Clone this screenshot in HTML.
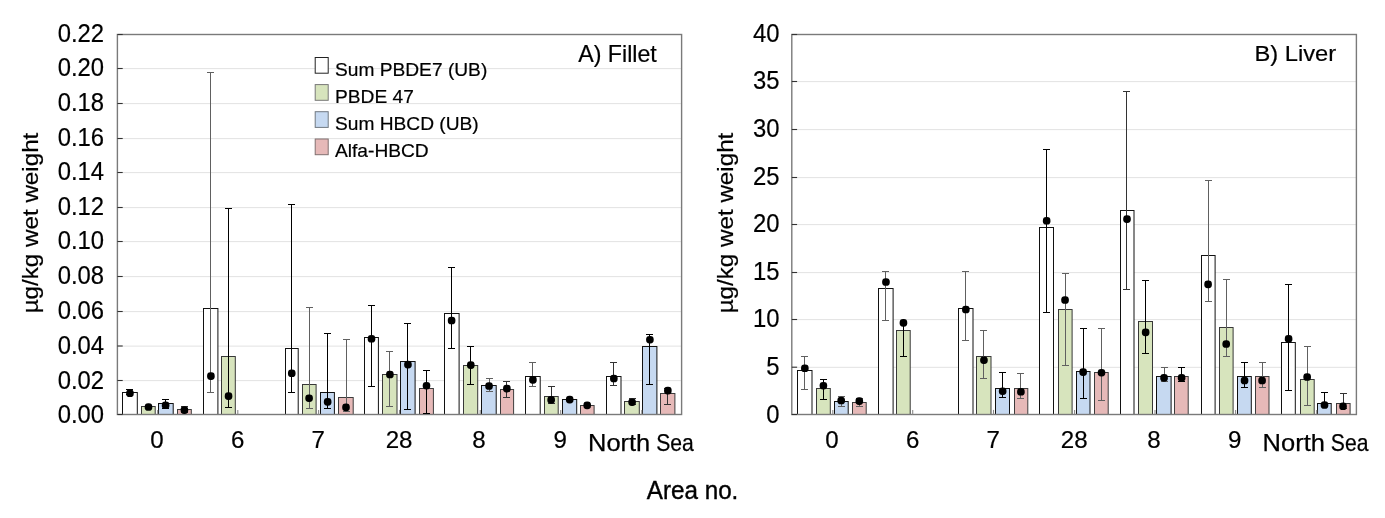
<!DOCTYPE html>
<html><head><meta charset="utf-8"><title>Area chart</title>
<style>
html,body{margin:0;padding:0;background:#fff;overflow:hidden;}
svg{display:block;}
text{font-family:"Liberation Sans",sans-serif;fill:#000;stroke:#000;stroke-width:0.2px;}
.tk{font-size:25.6px;}
.xl{font-size:24.1px;}
.ar{font-size:25.5px;stroke-width:0.4px;}
.ti{font-size:23.2px;}
.ti2{font-size:22.7px;}
.lg{font-size:18.4px;}
.yt{font-size:22.9px;}
.ns{font-size:23.8px;stroke:#000;stroke-width:0.25px;}
</style></head><body>
<svg width="1385" height="518" viewBox="0 0 1385 518">
<rect width="1385" height="518" fill="#fff"/>
<line x1="117.4" x2="681.6" y1="380.62" y2="380.62" stroke="#e2e2e2" stroke-width="1"/>
<line x1="117.4" x2="681.6" y1="346.12" y2="346.12" stroke="#e2e2e2" stroke-width="1"/>
<line x1="117.4" x2="681.6" y1="311.62" y2="311.62" stroke="#e2e2e2" stroke-width="1"/>
<line x1="117.4" x2="681.6" y1="276.62" y2="276.62" stroke="#e2e2e2" stroke-width="1"/>
<line x1="117.4" x2="681.6" y1="241.62" y2="241.62" stroke="#e2e2e2" stroke-width="1"/>
<line x1="117.4" x2="681.6" y1="207.62" y2="207.62" stroke="#e2e2e2" stroke-width="1"/>
<line x1="117.4" x2="681.6" y1="172.62" y2="172.62" stroke="#e2e2e2" stroke-width="1"/>
<line x1="117.4" x2="681.6" y1="138.62" y2="138.62" stroke="#e2e2e2" stroke-width="1"/>
<line x1="117.4" x2="681.6" y1="103.62" y2="103.62" stroke="#e2e2e2" stroke-width="1"/>
<line x1="117.4" x2="681.6" y1="68.62" y2="68.62" stroke="#e2e2e2" stroke-width="1"/>
<rect x="122.5" y="392.5" width="14.8" height="22.00" fill="#ffffff" stroke="#111" stroke-width="1"/>
<rect x="141.5" y="406.5" width="13.7" height="8.00" fill="#d7e4bd" stroke="#383838" stroke-width="1"/>
<rect x="158.5" y="403.5" width="14.7" height="11.00" fill="#c6d9f1" stroke="#111" stroke-width="1"/>
<rect x="177.5" y="409.5" width="13.8" height="5.00" fill="#e6b9b8" stroke="#3c3c3c" stroke-width="1"/>
<rect x="203.5" y="308.5" width="14.4" height="106.00" fill="#ffffff" stroke="#111" stroke-width="1"/>
<rect x="221.5" y="356.5" width="13.8" height="58.00" fill="#d7e4bd" stroke="#383838" stroke-width="1"/>
<rect x="285.5" y="348.5" width="12.7" height="66.00" fill="#ffffff" stroke="#111" stroke-width="1"/>
<rect x="302.5" y="384.5" width="13.6" height="30.00" fill="#d7e4bd" stroke="#383838" stroke-width="1"/>
<rect x="320.5" y="392.5" width="13.9" height="22.00" fill="#c6d9f1" stroke="#111" stroke-width="1"/>
<rect x="338.5" y="397.5" width="14.7" height="17.00" fill="#e6b9b8" stroke="#3c3c3c" stroke-width="1"/>
<rect x="364.5" y="337.5" width="13.9" height="77.00" fill="#ffffff" stroke="#111" stroke-width="1"/>
<rect x="382.5" y="374.5" width="14.5" height="40.00" fill="#d7e4bd" stroke="#383838" stroke-width="1"/>
<rect x="400.5" y="361.5" width="14.6" height="53.00" fill="#c6d9f1" stroke="#111" stroke-width="1"/>
<rect x="419.5" y="388.5" width="13.9" height="26.00" fill="#e6b9b8" stroke="#3c3c3c" stroke-width="1"/>
<rect x="444.5" y="313.5" width="14.6" height="101.00" fill="#ffffff" stroke="#111" stroke-width="1"/>
<rect x="463.5" y="365.5" width="14.2" height="49.00" fill="#d7e4bd" stroke="#383838" stroke-width="1"/>
<rect x="481.5" y="385.5" width="14.7" height="29.00" fill="#c6d9f1" stroke="#111" stroke-width="1"/>
<rect x="500.5" y="389.5" width="13.1" height="25.00" fill="#e6b9b8" stroke="#3c3c3c" stroke-width="1"/>
<rect x="525.5" y="376.5" width="14.7" height="38.00" fill="#ffffff" stroke="#111" stroke-width="1"/>
<rect x="544.5" y="396.5" width="13.7" height="18.00" fill="#d7e4bd" stroke="#383838" stroke-width="1"/>
<rect x="562.5" y="399.5" width="14.2" height="15.00" fill="#c6d9f1" stroke="#111" stroke-width="1"/>
<rect x="580.5" y="405.5" width="13.6" height="9.00" fill="#e6b9b8" stroke="#3c3c3c" stroke-width="1"/>
<rect x="606.5" y="376.5" width="14.5" height="38.00" fill="#ffffff" stroke="#111" stroke-width="1"/>
<rect x="624.5" y="401.5" width="14.8" height="13.00" fill="#d7e4bd" stroke="#383838" stroke-width="1"/>
<rect x="642.5" y="346.5" width="14.4" height="68.00" fill="#c6d9f1" stroke="#111" stroke-width="1"/>
<rect x="660.5" y="393.5" width="14.4" height="21.00" fill="#e6b9b8" stroke="#3c3c3c" stroke-width="1"/>
<rect x="117.4" y="34.5" width="564.2" height="380.0" fill="none" stroke="#7a7a7a" stroke-width="1.4"/>
<line x1="117.4" x2="122.7" y1="414.50" y2="414.50" stroke="#333" stroke-width="1.1"/>
<line x1="117.4" x2="122.7" y1="380.50" y2="380.50" stroke="#333" stroke-width="1.1"/>
<line x1="117.4" x2="122.7" y1="346.00" y2="346.00" stroke="#333" stroke-width="1.1"/>
<line x1="117.4" x2="122.7" y1="311.50" y2="311.50" stroke="#333" stroke-width="1.1"/>
<line x1="117.4" x2="122.7" y1="276.50" y2="276.50" stroke="#333" stroke-width="1.1"/>
<line x1="117.4" x2="122.7" y1="241.50" y2="241.50" stroke="#333" stroke-width="1.1"/>
<line x1="117.4" x2="122.7" y1="207.50" y2="207.50" stroke="#333" stroke-width="1.1"/>
<line x1="117.4" x2="122.7" y1="172.50" y2="172.50" stroke="#333" stroke-width="1.1"/>
<line x1="117.4" x2="122.7" y1="138.50" y2="138.50" stroke="#333" stroke-width="1.1"/>
<line x1="117.4" x2="122.7" y1="103.50" y2="103.50" stroke="#333" stroke-width="1.1"/>
<line x1="117.4" x2="122.7" y1="68.50" y2="68.50" stroke="#333" stroke-width="1.1"/>
<line x1="117.4" x2="122.7" y1="34.50" y2="34.50" stroke="#333" stroke-width="1.1"/>
<line x1="157.70" x2="157.70" y1="409.9" y2="414.5" stroke="#8a8a8a" stroke-width="1.1"/>
<line x1="237.80" x2="237.80" y1="409.9" y2="414.5" stroke="#8a8a8a" stroke-width="1.1"/>
<line x1="318.60" x2="318.60" y1="409.9" y2="414.5" stroke="#8a8a8a" stroke-width="1.1"/>
<line x1="399.50" x2="399.50" y1="409.9" y2="414.5" stroke="#8a8a8a" stroke-width="1.1"/>
<line x1="480.20" x2="480.20" y1="409.9" y2="414.5" stroke="#8a8a8a" stroke-width="1.1"/>
<line x1="560.70" x2="560.70" y1="409.9" y2="414.5" stroke="#8a8a8a" stroke-width="1.1"/>
<line x1="641.80" x2="641.80" y1="409.9" y2="414.5" stroke="#8a8a8a" stroke-width="1.1"/>
<path d="M129.5 389.5V394.5M126.0 389.5H133.0M126.0 394.5H133.0" stroke="#000" stroke-width="1.0" fill="none"/>
<path d="M165.5 399.5V408.5M162.0 399.5H169.0M162.0 408.5H169.0" stroke="#000" stroke-width="1.0" fill="none"/>
<path d="M184.5 406.5V412.5M181.0 406.5H188.0M181.0 412.5H188.0" stroke="#333" stroke-width="1.0" fill="none"/>
<path d="M210.5 72.5V392.5M207.0 72.5H214.0M207.0 392.5H214.0" stroke="#606060" stroke-width="1.0" fill="none"/>
<path d="M228.5 208.5V407.5M225.0 208.5H232.0M225.0 407.5H232.0" stroke="#000" stroke-width="1.0" fill="none"/>
<path d="M291.5 204.5V392.5M288.0 204.5H295.0M288.0 392.5H295.0" stroke="#000" stroke-width="1.0" fill="none"/>
<path d="M309.5 307.5V408.5M306.0 307.5H313.0M306.0 408.5H313.0" stroke="#606060" stroke-width="1.0" fill="none"/>
<path d="M327.5 333.5V408.5M324.0 333.5H331.0M324.0 408.5H331.0" stroke="#000" stroke-width="1.0" fill="none"/>
<path d="M346.5 339.5V411.5M343.0 339.5H350.0M343.0 411.5H350.0" stroke="#606060" stroke-width="1.0" fill="none"/>
<path d="M371.5 305.5V386.5M368.0 305.5H375.0M368.0 386.5H375.0" stroke="#000" stroke-width="1.0" fill="none"/>
<path d="M389.5 351.5V406.5M386.0 351.5H393.0M386.0 406.5H393.0" stroke="#606060" stroke-width="1.0" fill="none"/>
<path d="M407.5 323.5V409.5M404.0 323.5H411.0M404.0 409.5H411.0" stroke="#000" stroke-width="1.0" fill="none"/>
<path d="M426.5 370.5V413.5M423.0 370.5H430.0M423.0 413.5H430.0" stroke="#000" stroke-width="1.0" fill="none"/>
<path d="M451.5 267.5V348.5M448.0 267.5H455.0M448.0 348.5H455.0" stroke="#000" stroke-width="1.0" fill="none"/>
<path d="M470.5 346.5V384.5M467.0 346.5H474.0M467.0 384.5H474.0" stroke="#000" stroke-width="1.0" fill="none"/>
<path d="M489.5 378.5V391.5M486.0 378.5H493.0M486.0 391.5H493.0" stroke="#606060" stroke-width="1.0" fill="none"/>
<path d="M506.5 381.5V397.5M503.0 381.5H510.0M503.0 397.5H510.0" stroke="#333" stroke-width="1.0" fill="none"/>
<path d="M532.5 362.5V386.5M529.0 362.5H536.0M529.0 386.5H536.0" stroke="#606060" stroke-width="1.0" fill="none"/>
<path d="M551.5 386.5V403.5M548.0 386.5H555.0M548.0 403.5H555.0" stroke="#333" stroke-width="1.0" fill="none"/>
<path d="M613.5 362.5V385.5M610.0 362.5H617.0M610.0 385.5H617.0" stroke="#333" stroke-width="1.0" fill="none"/>
<path d="M632.5 398.5V404.5M629.0 398.5H636.0M629.0 404.5H636.0" stroke="#333" stroke-width="1.0" fill="none"/>
<path d="M649.5 334.5V384.5M646.0 334.5H653.0M646.0 384.5H653.0" stroke="#000" stroke-width="1.0" fill="none"/>
<path d="M667.5 388.5V404.5M664.0 388.5H671.0M664.0 404.5H671.0" stroke="#333" stroke-width="1.0" fill="none"/>
<rect x="126.15" y="389.50" width="7.6" height="7.6" rx="3.4" ry="3.4" fill="#000"/>
<rect x="144.70" y="403.20" width="7.6" height="7.6" rx="3.4" ry="3.4" fill="#000"/>
<rect x="161.80" y="401.50" width="7.6" height="7.6" rx="3.4" ry="3.4" fill="#000"/>
<rect x="180.60" y="406.30" width="7.6" height="7.6" rx="3.4" ry="3.4" fill="#000"/>
<rect x="207.10" y="372.30" width="7.6" height="7.6" rx="3.4" ry="3.4" fill="#000"/>
<rect x="224.75" y="392.30" width="7.6" height="7.6" rx="3.4" ry="3.4" fill="#000"/>
<rect x="287.95" y="369.50" width="7.6" height="7.6" rx="3.4" ry="3.4" fill="#000"/>
<rect x="305.30" y="394.40" width="7.6" height="7.6" rx="3.4" ry="3.4" fill="#000"/>
<rect x="323.85" y="398.10" width="7.6" height="7.6" rx="3.4" ry="3.4" fill="#000"/>
<rect x="342.20" y="403.60" width="7.6" height="7.6" rx="3.4" ry="3.4" fill="#000"/>
<rect x="367.70" y="335.00" width="7.6" height="7.6" rx="3.4" ry="3.4" fill="#000"/>
<rect x="386.10" y="370.70" width="7.6" height="7.6" rx="3.4" ry="3.4" fill="#000"/>
<rect x="404.15" y="360.80" width="7.6" height="7.6" rx="3.4" ry="3.4" fill="#000"/>
<rect x="422.70" y="381.90" width="7.6" height="7.6" rx="3.4" ry="3.4" fill="#000"/>
<rect x="447.80" y="316.70" width="7.6" height="7.6" rx="3.4" ry="3.4" fill="#000"/>
<rect x="467.00" y="361.30" width="7.6" height="7.6" rx="3.4" ry="3.4" fill="#000"/>
<rect x="485.25" y="382.20" width="7.6" height="7.6" rx="3.4" ry="3.4" fill="#000"/>
<rect x="503.05" y="384.80" width="7.6" height="7.6" rx="3.4" ry="3.4" fill="#000"/>
<rect x="529.10" y="376.10" width="7.6" height="7.6" rx="3.4" ry="3.4" fill="#000"/>
<rect x="547.35" y="396.10" width="7.6" height="7.6" rx="3.4" ry="3.4" fill="#000"/>
<rect x="565.90" y="395.80" width="7.6" height="7.6" rx="3.4" ry="3.4" fill="#000"/>
<rect x="583.40" y="401.60" width="7.6" height="7.6" rx="3.4" ry="3.4" fill="#000"/>
<rect x="610.05" y="374.70" width="7.6" height="7.6" rx="3.4" ry="3.4" fill="#000"/>
<rect x="628.30" y="398.40" width="7.6" height="7.6" rx="3.4" ry="3.4" fill="#000"/>
<rect x="646.10" y="335.90" width="7.6" height="7.6" rx="3.4" ry="3.4" fill="#000"/>
<rect x="664.05" y="386.80" width="7.6" height="7.6" rx="3.4" ry="3.4" fill="#000"/>
<text x="104.1" y="423.00" text-anchor="end" class="tk" transform="translate(104.1 0) scale(0.932 1) translate(-104.1 0)">0.00</text>
<text x="104.1" y="388.70" text-anchor="end" class="tk" transform="translate(104.1 0) scale(0.932 1) translate(-104.1 0)">0.02</text>
<text x="104.1" y="353.70" text-anchor="end" class="tk" transform="translate(104.1 0) scale(0.932 1) translate(-104.1 0)">0.04</text>
<text x="104.1" y="319.20" text-anchor="end" class="tk" transform="translate(104.1 0) scale(0.932 1) translate(-104.1 0)">0.06</text>
<text x="104.1" y="284.20" text-anchor="end" class="tk" transform="translate(104.1 0) scale(0.932 1) translate(-104.1 0)">0.08</text>
<text x="104.1" y="249.20" text-anchor="end" class="tk" transform="translate(104.1 0) scale(0.932 1) translate(-104.1 0)">0.10</text>
<text x="104.1" y="215.20" text-anchor="end" class="tk" transform="translate(104.1 0) scale(0.932 1) translate(-104.1 0)">0.12</text>
<text x="104.1" y="180.20" text-anchor="end" class="tk" transform="translate(104.1 0) scale(0.932 1) translate(-104.1 0)">0.14</text>
<text x="104.1" y="146.20" text-anchor="end" class="tk" transform="translate(104.1 0) scale(0.932 1) translate(-104.1 0)">0.16</text>
<text x="104.1" y="111.20" text-anchor="end" class="tk" transform="translate(104.1 0) scale(0.932 1) translate(-104.1 0)">0.18</text>
<text x="104.1" y="76.20" text-anchor="end" class="tk" transform="translate(104.1 0) scale(0.932 1) translate(-104.1 0)">0.20</text>
<text x="104.1" y="42.20" text-anchor="end" class="tk" transform="translate(104.1 0) scale(0.932 1) translate(-104.1 0)">0.22</text>
<line x1="791.8" x2="1356.4" y1="367.32" y2="367.32" stroke="#e2e2e2" stroke-width="1"/>
<line x1="791.8" x2="1356.4" y1="319.62" y2="319.62" stroke="#e2e2e2" stroke-width="1"/>
<line x1="791.8" x2="1356.4" y1="272.62" y2="272.62" stroke="#e2e2e2" stroke-width="1"/>
<line x1="791.8" x2="1356.4" y1="224.62" y2="224.62" stroke="#e2e2e2" stroke-width="1"/>
<line x1="791.8" x2="1356.4" y1="177.62" y2="177.62" stroke="#e2e2e2" stroke-width="1"/>
<line x1="791.8" x2="1356.4" y1="129.62" y2="129.62" stroke="#e2e2e2" stroke-width="1"/>
<line x1="791.8" x2="1356.4" y1="81.62" y2="81.62" stroke="#e2e2e2" stroke-width="1"/>
<rect x="797.5" y="370.5" width="14.5" height="44.00" fill="#ffffff" stroke="#111" stroke-width="1"/>
<rect x="816.5" y="388.5" width="13.8" height="26.00" fill="#d7e4bd" stroke="#383838" stroke-width="1"/>
<rect x="834.5" y="401.5" width="13.7" height="13.00" fill="#c6d9f1" stroke="#111" stroke-width="1"/>
<rect x="852.5" y="402.5" width="13.7" height="12.00" fill="#e6b9b8" stroke="#3c3c3c" stroke-width="1"/>
<rect x="878.5" y="288.5" width="14.6" height="126.00" fill="#ffffff" stroke="#111" stroke-width="1"/>
<rect x="896.5" y="330.5" width="13.7" height="84.00" fill="#d7e4bd" stroke="#383838" stroke-width="1"/>
<rect x="958.5" y="308.5" width="14.5" height="106.00" fill="#ffffff" stroke="#111" stroke-width="1"/>
<rect x="976.5" y="356.5" width="14.5" height="58.00" fill="#d7e4bd" stroke="#383838" stroke-width="1"/>
<rect x="995.5" y="388.5" width="14.0" height="26.00" fill="#c6d9f1" stroke="#111" stroke-width="1"/>
<rect x="1014.5" y="388.5" width="13.3" height="26.00" fill="#e6b9b8" stroke="#3c3c3c" stroke-width="1"/>
<rect x="1039.5" y="227.5" width="14.0" height="187.00" fill="#ffffff" stroke="#111" stroke-width="1"/>
<rect x="1058.5" y="309.5" width="13.6" height="105.00" fill="#d7e4bd" stroke="#383838" stroke-width="1"/>
<rect x="1076.5" y="371.5" width="13.5" height="43.00" fill="#c6d9f1" stroke="#111" stroke-width="1"/>
<rect x="1094.5" y="372.5" width="13.7" height="42.00" fill="#e6b9b8" stroke="#3c3c3c" stroke-width="1"/>
<rect x="1120.5" y="210.5" width="13.5" height="204.00" fill="#ffffff" stroke="#111" stroke-width="1"/>
<rect x="1138.5" y="321.5" width="14.0" height="93.00" fill="#d7e4bd" stroke="#383838" stroke-width="1"/>
<rect x="1156.5" y="376.5" width="14.6" height="38.00" fill="#c6d9f1" stroke="#111" stroke-width="1"/>
<rect x="1174.5" y="376.5" width="13.7" height="38.00" fill="#e6b9b8" stroke="#3c3c3c" stroke-width="1"/>
<rect x="1201.5" y="255.5" width="13.6" height="159.00" fill="#ffffff" stroke="#111" stroke-width="1"/>
<rect x="1219.5" y="327.5" width="13.6" height="87.00" fill="#d7e4bd" stroke="#383838" stroke-width="1"/>
<rect x="1237.5" y="376.5" width="13.8" height="38.00" fill="#c6d9f1" stroke="#111" stroke-width="1"/>
<rect x="1255.5" y="376.5" width="13.5" height="38.00" fill="#e6b9b8" stroke="#3c3c3c" stroke-width="1"/>
<rect x="1281.5" y="342.5" width="13.8" height="72.00" fill="#ffffff" stroke="#111" stroke-width="1"/>
<rect x="1300.5" y="379.5" width="13.7" height="35.00" fill="#d7e4bd" stroke="#383838" stroke-width="1"/>
<rect x="1317.5" y="403.5" width="13.7" height="11.00" fill="#c6d9f1" stroke="#111" stroke-width="1"/>
<rect x="1336.5" y="403.5" width="13.6" height="11.00" fill="#e6b9b8" stroke="#3c3c3c" stroke-width="1"/>
<rect x="791.8" y="34.5" width="564.6000000000001" height="380.0" fill="none" stroke="#7a7a7a" stroke-width="1.4"/>
<line x1="791.8" x2="797.0999999999999" y1="414.50" y2="414.50" stroke="#333" stroke-width="1.1"/>
<line x1="791.8" x2="797.0999999999999" y1="367.20" y2="367.20" stroke="#333" stroke-width="1.1"/>
<line x1="791.8" x2="797.0999999999999" y1="319.50" y2="319.50" stroke="#333" stroke-width="1.1"/>
<line x1="791.8" x2="797.0999999999999" y1="272.50" y2="272.50" stroke="#333" stroke-width="1.1"/>
<line x1="791.8" x2="797.0999999999999" y1="224.50" y2="224.50" stroke="#333" stroke-width="1.1"/>
<line x1="791.8" x2="797.0999999999999" y1="177.50" y2="177.50" stroke="#333" stroke-width="1.1"/>
<line x1="791.8" x2="797.0999999999999" y1="129.50" y2="129.50" stroke="#333" stroke-width="1.1"/>
<line x1="791.8" x2="797.0999999999999" y1="81.50" y2="81.50" stroke="#333" stroke-width="1.1"/>
<line x1="791.8" x2="797.0999999999999" y1="34.50" y2="34.50" stroke="#333" stroke-width="1.1"/>
<line x1="832.80" x2="832.80" y1="409.9" y2="414.5" stroke="#8a8a8a" stroke-width="1.1"/>
<line x1="912.70" x2="912.70" y1="409.9" y2="414.5" stroke="#8a8a8a" stroke-width="1.1"/>
<line x1="993.50" x2="993.50" y1="409.9" y2="414.5" stroke="#8a8a8a" stroke-width="1.1"/>
<line x1="1074.60" x2="1074.60" y1="409.9" y2="414.5" stroke="#8a8a8a" stroke-width="1.1"/>
<line x1="1155.00" x2="1155.00" y1="409.9" y2="414.5" stroke="#8a8a8a" stroke-width="1.1"/>
<line x1="1235.60" x2="1235.60" y1="409.9" y2="414.5" stroke="#8a8a8a" stroke-width="1.1"/>
<line x1="1316.70" x2="1316.70" y1="409.9" y2="414.5" stroke="#8a8a8a" stroke-width="1.1"/>
<path d="M804.5 356.5V389.5M801.0 356.5H808.0M801.0 389.5H808.0" stroke="#606060" stroke-width="1.0" fill="none"/>
<path d="M823.5 379.5V399.5M820.0 379.5H827.0M820.0 399.5H827.0" stroke="#000" stroke-width="1.0" fill="none"/>
<path d="M841.5 396.5V406.5M838.0 396.5H845.0M838.0 406.5H845.0" stroke="#606060" stroke-width="1.0" fill="none"/>
<path d="M859.5 398.5V406.5M856.0 398.5H863.0M856.0 406.5H863.0" stroke="#606060" stroke-width="1.0" fill="none"/>
<path d="M885.5 271.5V320.5M882.0 271.5H889.0M882.0 320.5H889.0" stroke="#606060" stroke-width="1.0" fill="none"/>
<path d="M903.5 322.5V356.5M900.0 322.5H907.0M900.0 356.5H907.0" stroke="#000" stroke-width="1.0" fill="none"/>
<path d="M965.5 271.5V340.5M962.0 271.5H969.0M962.0 340.5H969.0" stroke="#606060" stroke-width="1.0" fill="none"/>
<path d="M983.5 330.5V378.5M980.0 330.5H987.0M980.0 378.5H987.0" stroke="#606060" stroke-width="1.0" fill="none"/>
<path d="M1002.5 372.5V397.5M999.0 372.5H1006.0M999.0 397.5H1006.0" stroke="#000" stroke-width="1.0" fill="none"/>
<path d="M1020.5 373.5V398.5M1017.0 373.5H1024.0M1017.0 398.5H1024.0" stroke="#606060" stroke-width="1.0" fill="none"/>
<path d="M1046.5 149.5V312.5M1043.0 149.5H1050.0M1043.0 312.5H1050.0" stroke="#000" stroke-width="1.0" fill="none"/>
<path d="M1065.5 273.5V365.5M1062.0 273.5H1069.0M1062.0 365.5H1069.0" stroke="#606060" stroke-width="1.0" fill="none"/>
<path d="M1083.5 328.5V398.5M1080.0 328.5H1087.0M1080.0 398.5H1087.0" stroke="#000" stroke-width="1.0" fill="none"/>
<path d="M1101.5 328.5V400.5M1098.0 328.5H1105.0M1098.0 400.5H1105.0" stroke="#606060" stroke-width="1.0" fill="none"/>
<path d="M1126.5 91.5V289.5M1123.0 91.5H1130.0M1123.0 289.5H1130.0" stroke="#333" stroke-width="1.0" fill="none"/>
<path d="M1145.5 280.5V353.5M1142.0 280.5H1149.0M1142.0 353.5H1149.0" stroke="#000" stroke-width="1.0" fill="none"/>
<path d="M1164.5 367.5V381.5M1161.0 367.5H1168.0M1161.0 381.5H1168.0" stroke="#606060" stroke-width="1.0" fill="none"/>
<path d="M1181.5 367.5V381.5M1178.0 367.5H1185.0M1178.0 381.5H1185.0" stroke="#000" stroke-width="1.0" fill="none"/>
<path d="M1208.5 180.5V301.5M1205.0 180.5H1212.0M1205.0 301.5H1212.0" stroke="#606060" stroke-width="1.0" fill="none"/>
<path d="M1226.5 279.5V356.5M1223.0 279.5H1230.0M1223.0 356.5H1230.0" stroke="#606060" stroke-width="1.0" fill="none"/>
<path d="M1244.5 362.5V387.5M1241.0 362.5H1248.0M1241.0 387.5H1248.0" stroke="#000" stroke-width="1.0" fill="none"/>
<path d="M1262.5 362.5V387.5M1259.0 362.5H1266.0M1259.0 387.5H1266.0" stroke="#606060" stroke-width="1.0" fill="none"/>
<path d="M1288.5 284.5V390.5M1285.0 284.5H1292.0M1285.0 390.5H1292.0" stroke="#000" stroke-width="1.0" fill="none"/>
<path d="M1307.5 346.5V405.5M1304.0 346.5H1311.0M1304.0 405.5H1311.0" stroke="#606060" stroke-width="1.0" fill="none"/>
<path d="M1324.5 392.5V406.5M1321.0 392.5H1328.0M1321.0 406.5H1328.0" stroke="#000" stroke-width="1.0" fill="none"/>
<path d="M1343.5 393.5V408.5M1340.0 393.5H1347.0M1340.0 408.5H1347.0" stroke="#333" stroke-width="1.0" fill="none"/>
<rect x="801.05" y="364.50" width="7.6" height="7.6" rx="3.4" ry="3.4" fill="#000"/>
<rect x="819.60" y="381.90" width="7.6" height="7.6" rx="3.4" ry="3.4" fill="#000"/>
<rect x="837.40" y="396.70" width="7.6" height="7.6" rx="3.4" ry="3.4" fill="#000"/>
<rect x="855.50" y="397.30" width="7.6" height="7.6" rx="3.4" ry="3.4" fill="#000"/>
<rect x="882.15" y="278.20" width="7.6" height="7.6" rx="3.4" ry="3.4" fill="#000"/>
<rect x="899.65" y="319.10" width="7.6" height="7.6" rx="3.4" ry="3.4" fill="#000"/>
<rect x="962.05" y="305.70" width="7.6" height="7.6" rx="3.4" ry="3.4" fill="#000"/>
<rect x="980.15" y="356.40" width="7.6" height="7.6" rx="3.4" ry="3.4" fill="#000"/>
<rect x="998.85" y="387.40" width="7.6" height="7.6" rx="3.4" ry="3.4" fill="#000"/>
<rect x="1017.10" y="388.00" width="7.6" height="7.6" rx="3.4" ry="3.4" fill="#000"/>
<rect x="1042.85" y="217.00" width="7.6" height="7.6" rx="3.4" ry="3.4" fill="#000"/>
<rect x="1061.25" y="296.20" width="7.6" height="7.6" rx="3.4" ry="3.4" fill="#000"/>
<rect x="1079.35" y="368.30" width="7.6" height="7.6" rx="3.4" ry="3.4" fill="#000"/>
<rect x="1097.70" y="368.90" width="7.6" height="7.6" rx="3.4" ry="3.4" fill="#000"/>
<rect x="1123.20" y="215.30" width="7.6" height="7.6" rx="3.4" ry="3.4" fill="#000"/>
<rect x="1141.85" y="328.60" width="7.6" height="7.6" rx="3.4" ry="3.4" fill="#000"/>
<rect x="1160.25" y="374.10" width="7.6" height="7.6" rx="3.4" ry="3.4" fill="#000"/>
<rect x="1177.80" y="374.10" width="7.6" height="7.6" rx="3.4" ry="3.4" fill="#000"/>
<rect x="1204.30" y="280.60" width="7.6" height="7.6" rx="3.4" ry="3.4" fill="#000"/>
<rect x="1222.40" y="340.20" width="7.6" height="7.6" rx="3.4" ry="3.4" fill="#000"/>
<rect x="1240.75" y="376.70" width="7.6" height="7.6" rx="3.4" ry="3.4" fill="#000"/>
<rect x="1258.30" y="376.70" width="7.6" height="7.6" rx="3.4" ry="3.4" fill="#000"/>
<rect x="1284.80" y="335.00" width="7.6" height="7.6" rx="3.4" ry="3.4" fill="#000"/>
<rect x="1303.35" y="373.20" width="7.6" height="7.6" rx="3.4" ry="3.4" fill="#000"/>
<rect x="1320.70" y="401.20" width="7.6" height="7.6" rx="3.4" ry="3.4" fill="#000"/>
<rect x="1339.25" y="402.50" width="7.6" height="7.6" rx="3.4" ry="3.4" fill="#000"/>
<text x="779.5" y="423.00" text-anchor="end" class="tk" transform="translate(779.5 0) scale(0.932 1) translate(-779.5 0)">0</text>
<text x="779.5" y="375.40" text-anchor="end" class="tk" transform="translate(779.5 0) scale(0.932 1) translate(-779.5 0)">5</text>
<text x="779.5" y="327.20" text-anchor="end" class="tk" transform="translate(779.5 0) scale(0.932 1) translate(-779.5 0)">10</text>
<text x="779.5" y="280.20" text-anchor="end" class="tk" transform="translate(779.5 0) scale(0.932 1) translate(-779.5 0)">15</text>
<text x="779.5" y="232.20" text-anchor="end" class="tk" transform="translate(779.5 0) scale(0.932 1) translate(-779.5 0)">20</text>
<text x="779.5" y="185.20" text-anchor="end" class="tk" transform="translate(779.5 0) scale(0.932 1) translate(-779.5 0)">25</text>
<text x="779.5" y="137.20" text-anchor="end" class="tk" transform="translate(779.5 0) scale(0.932 1) translate(-779.5 0)">30</text>
<text x="779.5" y="89.20" text-anchor="end" class="tk" transform="translate(779.5 0) scale(0.932 1) translate(-779.5 0)">35</text>
<text x="779.5" y="42.20" text-anchor="end" class="tk" transform="translate(779.5 0) scale(0.932 1) translate(-779.5 0)">40</text>
<rect x="315.2" y="57.5" width="13" height="15.7" fill="#ffffff" stroke="#222" stroke-width="1"/>
<text x="335" y="76.1" class="lg" transform="translate(335 0) scale(1.042 1) translate(-335 0)">Sum PBDE7 (UB)</text>
<rect x="315.2" y="84.60000000000001" width="13" height="15.7" fill="#d7e4bd" stroke="#777" stroke-width="1"/>
<text x="335" y="102.9" class="lg" transform="translate(335 0) scale(1.042 1) translate(-335 0)">PBDE 47</text>
<rect x="315.2" y="111.7" width="13" height="15.7" fill="#c6d9f1" stroke="#707880" stroke-width="1"/>
<text x="335" y="129.9" class="lg" transform="translate(335 0) scale(1.042 1) translate(-335 0)">Sum HBCD (UB)</text>
<rect x="315.2" y="139.0" width="13" height="15.7" fill="#e6b9b8" stroke="#807070" stroke-width="1"/>
<text x="335" y="157.4" class="lg" transform="translate(335 0) scale(1.042 1) translate(-335 0)">Alfa-HBCD</text>
<text x="656.8" y="62.2" text-anchor="end" class="ti">A) Fillet</text>
<text x="1336.2" y="60.9" text-anchor="end" class="ti2" transform="translate(1336.2 0) scale(1.045 1) translate(-1336.2 0)">B) Liver</text>
<text x="157.0" y="448.2" text-anchor="middle" class="xl" transform="translate(157.0 0) scale(1.0 1) translate(-157.0 0)">0</text>
<text x="237.8" y="448.2" text-anchor="middle" class="xl" transform="translate(237.8 0) scale(1.0 1) translate(-237.8 0)">6</text>
<text x="318.2" y="448.2" text-anchor="middle" class="xl" transform="translate(318.2 0) scale(1.0 1) translate(-318.2 0)">7</text>
<text x="399.1" y="448.2" text-anchor="middle" class="xl" transform="translate(399.1 0) scale(1.0 1) translate(-399.1 0)">28</text>
<text x="479.0" y="448.2" text-anchor="middle" class="xl" transform="translate(479.0 0) scale(1.0 1) translate(-479.0 0)">8</text>
<text x="560.2" y="448.2" text-anchor="middle" class="xl" transform="translate(560.2 0) scale(1.0 1) translate(-560.2 0)">9</text>
<text x="832.0" y="448.2" text-anchor="middle" class="xl" transform="translate(832.0 0) scale(1.0 1) translate(-832.0 0)">0</text>
<text x="912.7" y="448.2" text-anchor="middle" class="xl" transform="translate(912.7 0) scale(1.0 1) translate(-912.7 0)">6</text>
<text x="993.2" y="448.2" text-anchor="middle" class="xl" transform="translate(993.2 0) scale(1.0 1) translate(-993.2 0)">7</text>
<text x="1074.2" y="448.2" text-anchor="middle" class="xl" transform="translate(1074.2 0) scale(1.0 1) translate(-1074.2 0)">28</text>
<text x="1154.0" y="448.2" text-anchor="middle" class="xl" transform="translate(1154.0 0) scale(1.0 1) translate(-1154.0 0)">8</text>
<text x="1234.6" y="448.2" text-anchor="middle" class="xl" transform="translate(1234.6 0) scale(1.0 1) translate(-1234.6 0)">9</text>
<text x="588.0" y="451.1" class="ns"><tspan textLength="62.3" lengthAdjust="spacingAndGlyphs">North</tspan> <tspan x="656.2" textLength="37.6" lengthAdjust="spacingAndGlyphs">Sea</tspan></text>
<text x="1262.6" y="450.9" class="ns"><tspan textLength="62.3" lengthAdjust="spacingAndGlyphs">North</tspan> <tspan x="1330.8" textLength="37.6" lengthAdjust="spacingAndGlyphs">Sea</tspan></text>
<text x="692.6" y="498.7" text-anchor="middle" class="ar" transform="translate(692.6 0) scale(0.95 1) translate(-692.6 0)">Area no.</text>
<text class="yt" text-anchor="middle" transform="translate(38.0 223.0) rotate(-90) scale(1.057 1)">µg/kg wet weight</text>
<text class="yt" text-anchor="middle" transform="translate(733.2 223.0) rotate(-90) scale(1.057 1)">µg/kg wet weight</text>
</svg></body></html>
